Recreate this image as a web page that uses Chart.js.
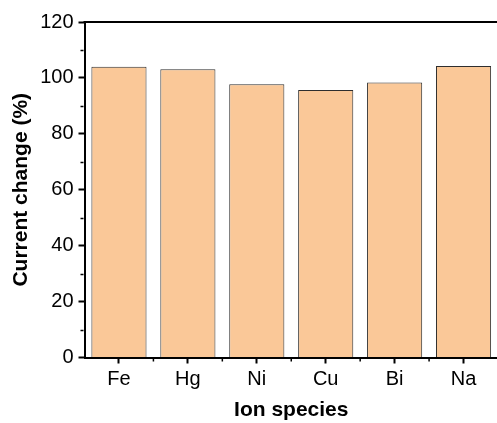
<!DOCTYPE html>
<html>
<head>
<meta charset="utf-8">
<script src="https://cdn.jsdelivr.net/npm/chart.js@4"></script>
<style>
  html, body { margin: 0; padding: 0; background: #fff; overflow: hidden; }
  canvas { display: block; }
</style>
</head>
<body>
<canvas id="chart" width="501" height="423"></canvas>
<script>
// --- Data ---
const ions = ['Fe', 'Hg', 'Ni', 'Cu', 'Bi', 'Na'];
const currentChange = [104.0, 103.1, 97.7, 95.7, 98.4, 104.3];
const yMinorTicks = [10, 30, 50, 70, 90, 110];

const FONT = "Arial, 'Liberation Sans', sans-serif";

// frame on top + short minor ticks (like Origin)
const framePlugin = {
    id: 'frame',
    afterDraw(chart) {
        const ctx = chart.ctx, a = chart.chartArea;
        const y = chart.scales.y, x = chart.scales.x;
        ctx.save();
        ctx.strokeStyle = '#000';
        ctx.lineWidth = 2;
        ctx.beginPath();
        ctx.moveTo(a.left - 1, a.top);
        ctx.lineTo(a.right, a.top);
        ctx.stroke();

        ctx.lineWidth = 1.5;
        ctx.beginPath();
        yMinorTicks.forEach(v => {
            const py = Math.round(y.getPixelForValue(v)) + 0.5;
            ctx.moveTo(a.left - 1, py);
            ctx.lineTo(a.left - 4, py);
        });
        for (let i = 1; i < ions.length; i++) {
            const px = (x.getPixelForValue(i - 1) + x.getPixelForValue(i)) / 2;
            ctx.moveTo(px, a.bottom + 1);
            ctx.lineTo(px, a.bottom + 4);
        }
        ctx.stroke();
        ctx.restore();
    }
};

new Chart(document.getElementById('chart'), {
    type: 'bar',
    data: {
        labels: ions,
        datasets: [{
            data: currentChange,
            backgroundColor: '#FAC898',
            borderColor: '#2e2e2e',
            borderWidth: 1,
            barPercentage: 0.8,
            categoryPercentage: 1.0
        }]
    },
    options: {
        responsive: false,
        animation: false,
        layout: { padding: { top: 22, right: 3, left: 0, bottom: 0 } },
        plugins: { legend: { display: false }, tooltip: { enabled: false } },
        scales: {
            x: {
                offset: true,
                grid: { drawOnChartArea: false, offset: false, tickLength: 6, tickWidth: 2, tickColor: '#000' },
                border: { color: '#000', width: 2 },
                ticks: { color: '#000', font: { family: FONT, size: 20 }, padding: 4, maxRotation: 0 },
                title: { display: true, text: 'Ion species', color: '#000',
                         font: { family: FONT, size: 21, weight: 'bold' }, padding: { top: 13, bottom: 0 } },
                afterFit(s) { s.height = 65.5; }
            },
            y: {
                min: 0, max: 120,
                ticks: { stepSize: 20, color: '#000', font: { family: FONT, size: 20 }, padding: 5 },
                grid: { drawOnChartArea: false, tickLength: 6, tickWidth: 2, tickColor: '#000' },
                border: { color: '#000', width: 2 },
                title: { display: true, text: 'Current change (%)', color: '#000',
                         font: { family: FONT, size: 21, weight: 'bold' }, padding: { top: 9, bottom: 4 } },
                afterFit(s) { s.width = 84.5; }
            }
        }
    },
    plugins: [framePlugin]
});
</script>
</body>
</html>
